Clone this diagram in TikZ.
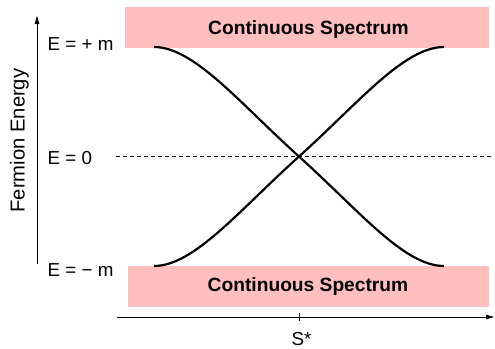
\documentclass[tikz,border=0pt]{standalone}
\usepackage{fontspec}
\setmainfont{Liberation Sans}
\usetikzlibrary{arrows.meta}
\definecolor{spec}{RGB}{255,191,191}
\begin{document}
\begin{tikzpicture}[x=1pt,y=-1pt,
  lbl/.style={font=\fontsize{18.8}{20}\selectfont, inner sep=0pt},
  spectxt/.style={font=\fontsize{19.2}{21}\selectfont\bfseries, inner sep=0pt},
  specbox/.style={fill=spec, draw=none},
  axis/.style={line width=0.9pt, -{Latex[length=9pt,width=5pt]}},
  curve/.style={line width=2.2pt},
]
\useasboundingbox (0,0) rectangle (495,348);
% spectrum boxes
\fill[spec] (125,7) rectangle (489,47.5);
\fill[spec] (128,266) rectangle (489,307);
\node[spectxt, anchor=base] (ctop) at (308.5,34) {Continuous Spectrum};
\node[spectxt, anchor=base] (cbot) at (308,291.5) {Continuous Spectrum};
% axes
\coordinate (vb) at (37,264);
\coordinate (vt) at (37,15);
\draw[axis] (vb) -- (vt);
\coordinate (hl) at (117,317);
\coordinate (hr) at (495,317);
\draw[axis] (hl) -- (hr);
\coordinate (t1) at (299,313);
\coordinate (t2) at (299,320.5);
\draw[line width=0.9pt] (t1) -- (t2);
\node[lbl, anchor=base] (sstar) at (301.5,345) {S*};
\node[lbl, anchor=base, rotate=90, font=\fontsize{20.2}{22}\selectfont] (fe) at (24.5,140.5) {Fermion Energy};
% labels
\node[lbl, anchor=base west] (ep) at (47.5,50.7) {E = + m};
\node[lbl, anchor=base west] (e0) at (47.5,164.3) {E = 0};
\node[lbl, anchor=base west] (em) at (47.5,276) {E = \char"2212{} m};
% dashed zero line
\coordinate (dl) at (116,156.5);
\coordinate (dr) at (491,156.5);
\draw[line width=0.8pt, dash pattern=on 4pt off 3pt] (dl) -- (dr);
% curves
\coordinate (C) at (299,156.5);
\draw[curve] (154,266) .. controls (194,266) and (239,210.5) .. (C)
  .. controls (359,102.5) and (404,47) .. (444,47);
\draw[curve] (154,47) .. controls (194,47) and (239,102.5) .. (C)
  .. controls (359,210.5) and (404,266) .. (444,266);
\end{tikzpicture}
\end{document}
